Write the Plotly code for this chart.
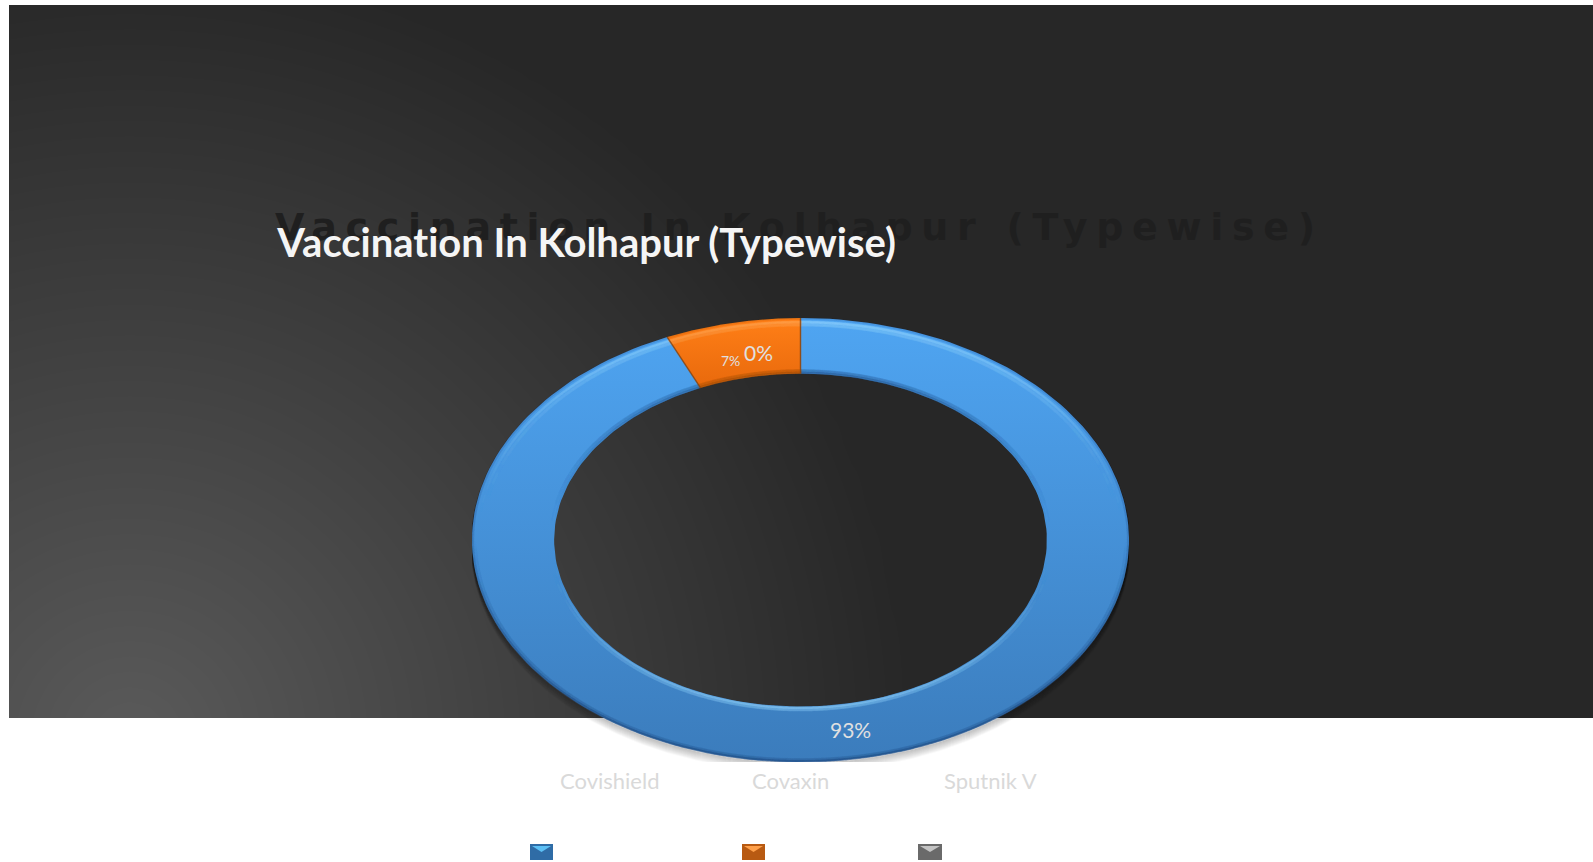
import numpy as np
import plotly.graph_objects as go

# ---- data -------------------------------------------------------------
categories = ["Covishield", "Covaxin", "Sputnik V"]
values = [93.35, 6.65, 0]
title_text = "Vaccination In Kolhapur (Typewise)"

W, H = 1593, 862
PANEL = (9, 5, 1593, 718)          # dark panel, pixels
RING = (472, 318, 1129, 762)       # ring bounding box, pixels
HOLE = 0.75
top_colors = {"Covishield": "#4fa5f2", "Covaxin": "#ff7f17", "Sputnik V": "#8c8c8c"}
low_colors = {"Covishield": "#3b7cbc", "Covaxin": "#e8690c", "Sputnik V": "#6e6e6e"}
swatches = {"Covishield": (530, 553, "#2f6ca6", "#5cc0f5"),
            "Covaxin": (742, 765, "#b85a12", "#ffa04a"),
            "Sputnik V": (918, 942, "#6a6a6a", "#c4c4c4")}
legend_x = {"Covishield": 609, "Covaxin": 790, "Sputnik V": 990}
label_pos = {"Covishield": (850, 729, 21), "Covaxin": (730, 360, 14), "Sputnik V": (758, 352, 21)}


def px(x):
    return x / W


def py(y):
    return 1 - y / H


def arc(start, stop, r, n=200):
    a = np.radians(np.linspace(start, stop, n))
    return r * np.sin(a), r * np.cos(a)


fig = go.Figure()

# ---- panel backdrop on its own axes -----------------------------------
gx = np.linspace(PANEL[0], PANEL[2], 80)
gy = np.linspace(PANEL[3], PANEL[1], 50)
xx, yy = np.meshgrid(gx, gy)
dist = np.sqrt((xx - 130) ** 2 + (yy - 740) ** 2)
glow = np.clip(1 - dist / 780, 0, 1)
fig.add_trace(go.Heatmap(x=gx, y=gy, z=glow, zmin=0, zmax=1, zsmooth="best", showscale=False,
                         hoverinfo="skip", xaxis="x", yaxis="y",
                         colorscale=[[0, "#272727"], [1, "#5a5a5a"]]))

# ---- soft shadow under the ring ---------------------------------------
for off in range(1, 10):
    sx, sy = arc(0, 360, 1.0, 400)
    fig.add_trace(go.Scatter(x=sx, y=sy - off / 222, mode="lines", xaxis="x2", yaxis="y2",
                             line=dict(color=f"rgba(0,0,0,{0.14 - off * 0.013:.3f})", width=2),
                             hoverinfo="skip", showlegend=False))


def bevel(a0, a1, r, rgb, alpha, size):
    """Soft edge: one dense run of dots whose opacity follows the angle."""
    n = max(int((a1 - a0) * 5), 10)
    th = np.linspace(a0, a1, n)
    up = np.clip(np.cos(np.radians(th)), 0, 1)
    down = np.clip(-np.cos(np.radians(th)), 0, 1)
    al = alpha(up, down)
    x, y = arc(a0, a1, r, n)
    col = [f"rgba({rgb[0]},{rgb[1]},{rgb[2]},{v:.3f})" for v in al]
    fig.add_trace(go.Scatter(x=x, y=y, mode="markers", xaxis="x2", yaxis="y2", hoverinfo="skip",
                             showlegend=False, marker=dict(size=size, color=col, line=dict(width=0))))


# ---- ring slices from the values --------------------------------------
total = sum(values)
start = 0.0
for cat, val in zip(categories, values):
    share = val / total * 360
    if share > 0:
        stop = start + share
        ox, oy = arc(start, stop, 1.0)
        ix, iy = arc(stop, start, HOLE)
        fig.add_trace(go.Scatter(
            x=np.r_[ox, ix, ox[0]], y=np.r_[oy, iy, oy[0]], mode="lines", fill="toself",
            xaxis="x2", yaxis="y2", name=cat, hoverinfo="name", showlegend=False,
            line=dict(width=0, color=top_colors[cat]),
            fillgradient=dict(type="vertical", colorscale=[[0, low_colors[cat]], [1, top_colors[cat]]]),
        ))
        if cat == "Covaxin":
            light, dark = (255, 170, 90), (150, 75, 10)
        else:
            light, dark = (150, 215, 255), (35, 80, 135)
        # outer rim
        bevel(start, stop, 0.997, dark, lambda u, d: 0.08 + 0.40 * d, 2.5)
        bevel(start, stop, 0.989, dark, lambda u, d: 0.16 * d, 3)
        bevel(start, stop, 0.982, light, lambda u, d: 0.32 * u ** 2, 3)
        bevel(start, stop, 0.970, light, lambda u, d: 0.14 * u ** 2, 4)
        # inner rim
        bevel(start, stop, 0.753, dark, lambda u, d: 0.28 * u ** 2, 2.5)
        bevel(start, stop, 0.762, dark, lambda u, d: 0.12 * u ** 2, 3.5)
        bevel(start, stop, 0.756, light, lambda u, d: 0.30 * d ** 2, 2.5)
        bevel(start, stop, 0.765, light, lambda u, d: 0.14 * d ** 2, 3.5)
        if cat == "Covaxin":
            for ang in (start, stop):
                s, c = np.sin(np.radians(ang)), np.cos(np.radians(ang))
                fig.add_trace(go.Scatter(x=[HOLE * s, s], y=[HOLE * c, c], mode="lines", xaxis="x2", yaxis="y2",
                                         line=dict(color="rgba(140,70,15,0.8)", width=1.5),
                                         hoverinfo="skip", showlegend=False))
    start += share

# ---- legend swatches --------------------------------------------------
shapes = []
for cat in categories:
    x0, x1, base, notch = swatches[cat]
    mid = (x0 + x1) / 2
    shapes.append(dict(type="rect", xref="paper", yref="paper", x0=px(x0), x1=px(x1), y0=py(860), y1=py(844),
                       fillcolor=base, line=dict(width=0)))
    shapes.append(dict(type="path", xref="paper", yref="paper",
                       path=f"M {px(x0 + 2)} {py(846)} L {px(x1 - 2)} {py(846)} L {px(mid)} {py(852)} Z",
                       fillcolor=notch, line=dict(width=0)))

# ---- text -------------------------------------------------------------
ann = [
    dict(text=f"<b>{title_text}</b>", x=px(799), y=py(227), font=dict(family="DejaVu Sans", size=38, color="#1f1f1f")),
    dict(text=f"<b>{title_text}</b>", x=px(586), y=py(242), font=dict(family="Lato", size=40, color="#f5f5f5")),
]
for cat, val in zip(categories, values):
    lx, ly, size = label_pos[cat]
    ann.append(dict(text=f"{val:.0f}%", x=px(lx), y=py(ly), font=dict(family="Lato", size=size, color="#e0e0e0")))
    ann.append(dict(text=cat, x=px(legend_x[cat]), y=py(780), font=dict(family="Lato", size=22, color="#d9d9d9")))
for a in ann:
    a.update(xref="paper", yref="paper", xanchor="center", yanchor="middle", showarrow=False)

hidden = dict(visible=False, fixedrange=True)
fig.update_layout(
    width=W, height=H, margin=dict(l=0, r=0, t=0, b=0), paper_bgcolor="white", plot_bgcolor="rgba(0,0,0,0)",
    showlegend=False, shapes=shapes, annotations=ann,
    xaxis=dict(domain=[px(PANEL[0]), px(PANEL[2])], range=[PANEL[0], PANEL[2]], **hidden),
    yaxis=dict(domain=[py(PANEL[3]), py(PANEL[1])], range=[PANEL[3], PANEL[1]], **hidden),
    xaxis2=dict(domain=[px(RING[0]), px(RING[2])], range=[-1, 1], anchor="y2", **hidden),
    yaxis2=dict(domain=[py(RING[3]), py(RING[1])], range=[-1, 1], anchor="x2", **hidden),
)
fig.write_html("out.html", config=dict(displayModeBar=False),
               post_script="document.body.style.margin='0';document.body.style.overflow='hidden';"
                           "var s=document.createElement('style');"
                           "s.textContent='text{font-variant-ligatures:none !important}';"
                           "document.head.appendChild(s);"
                           "var g=document.querySelector('.annotation .annotation-text');"
                           "if(g){g.style.letterSpacing='8.7px';}")
